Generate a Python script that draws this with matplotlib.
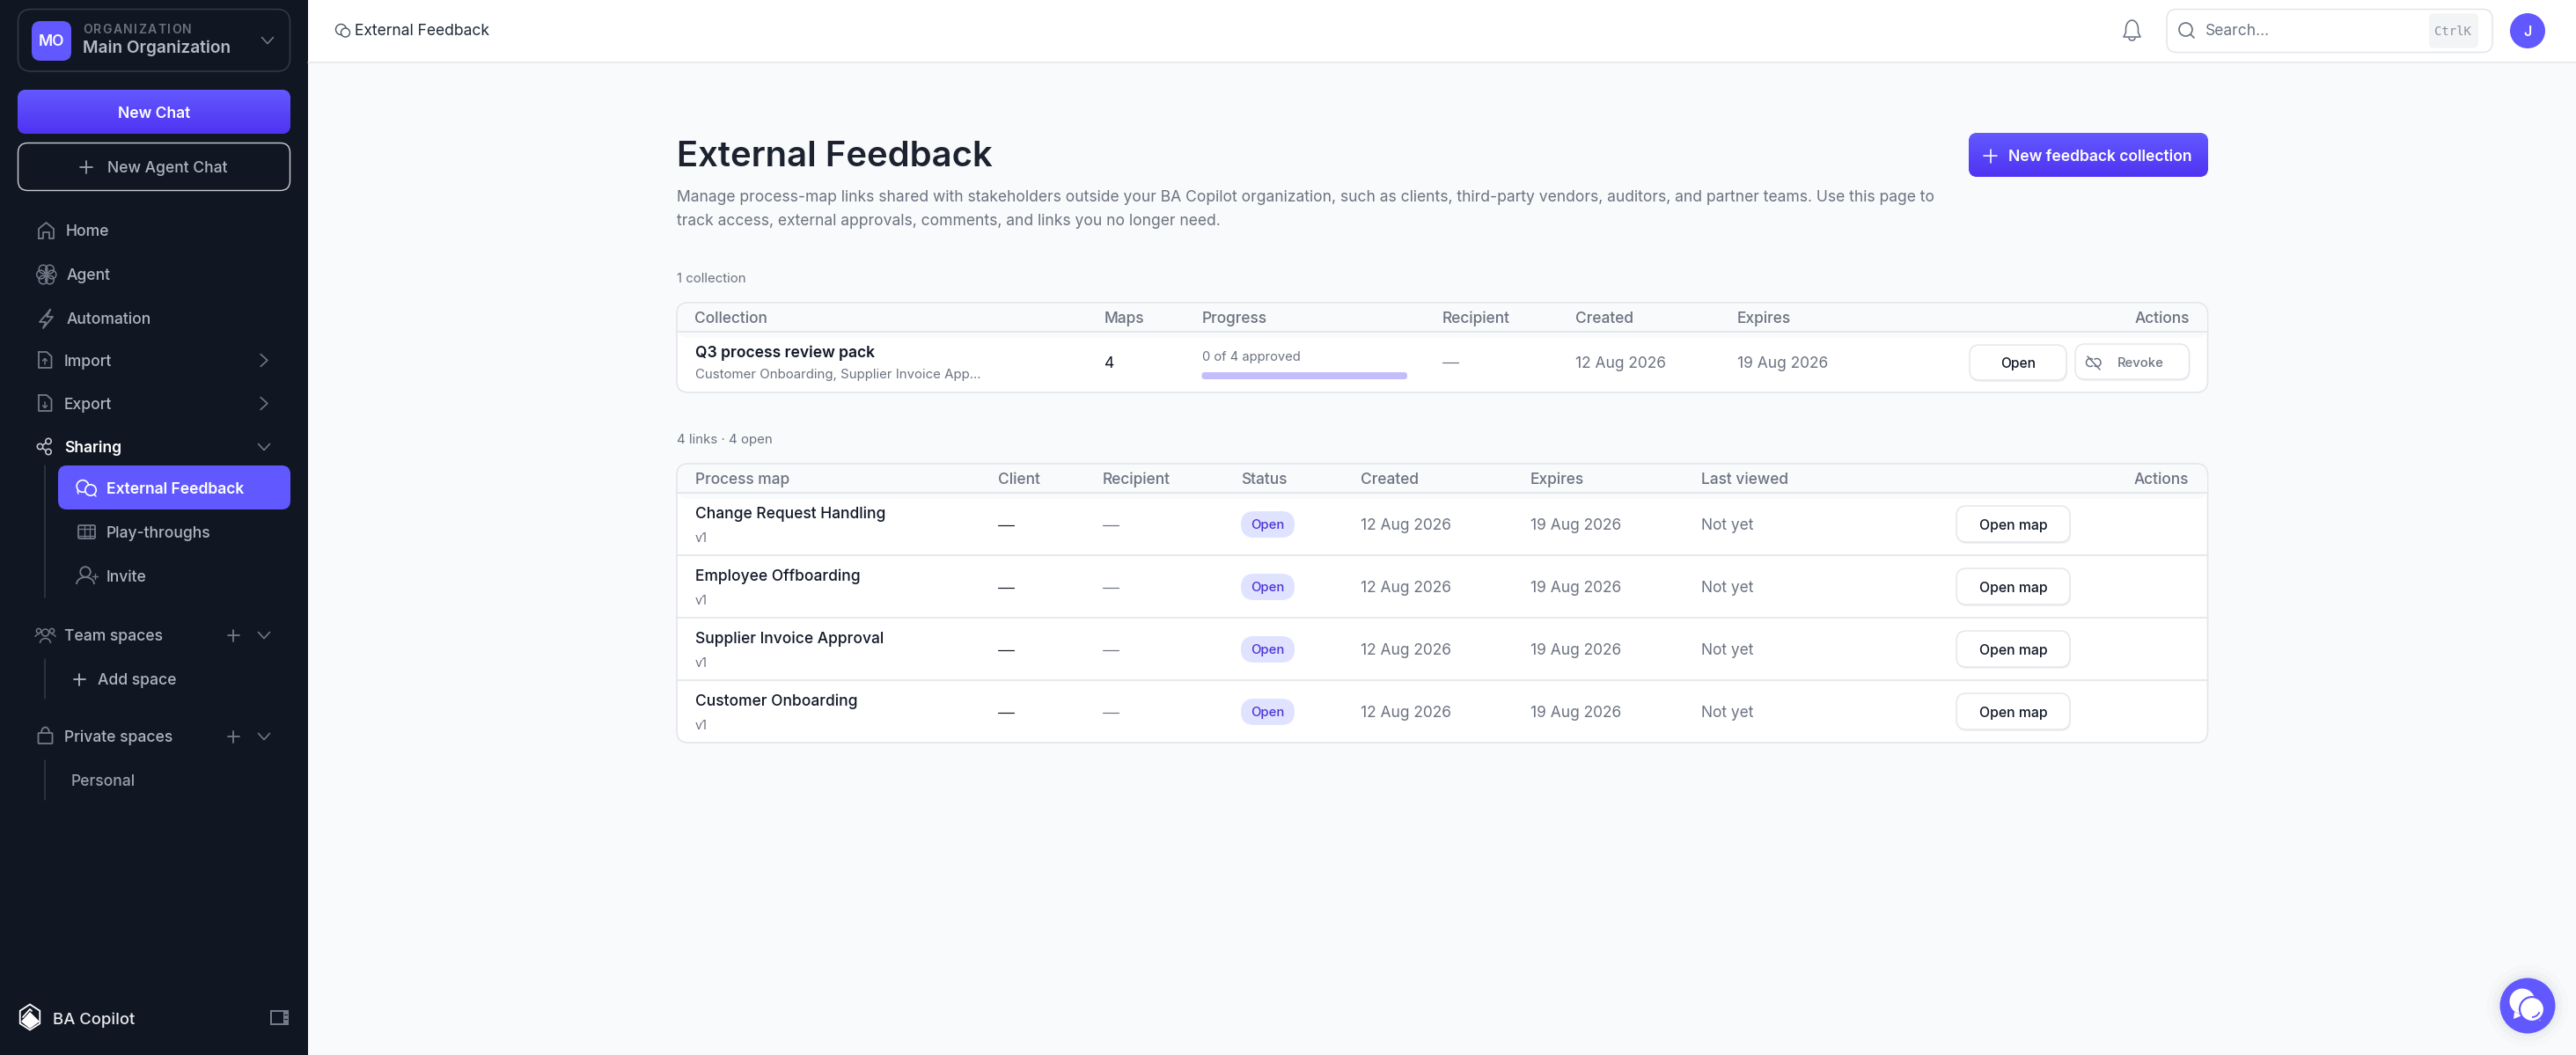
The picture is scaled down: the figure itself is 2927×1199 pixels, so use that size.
import numpy as np
import matplotlib
matplotlib.use("Agg")
import matplotlib.pyplot as plt
from matplotlib.patches import FancyBboxPatch, Circle, Rectangle, Polygon, Arc

plt.rcParams['font.family'] = ['Inter', 'DejaVu Sans']

# ---------- content ----------
NAV_MAIN = ["Home", "Agent", "Automation"]
NAV_IO = ["Import", "Export"]
NAV_SHARING = ["External Feedback", "Play-throughs", "Invite"]
TITLE = "External Feedback"
DESC = ["Manage process-map links shared with stakeholders outside your BA Copilot organization, such as clients, third-party vendors, auditors, and partner teams. Use this page to",
        "track access, external approvals, comments, and links you no longer need."]
T1_HEAD = ["Collection", "Maps", "Progress", "Recipient", "Created", "Expires"]
T2_HEAD = ["Process map", "Client", "Recipient", "Status", "Created", "Expires", "Last viewed"]
MAPS = ["Change Request Handling", "Employee Offboarding", "Supplier Invoice Approval", "Customer Onboarding"]
CREATED = "12 Aug 2026"
EXPIRES = "19 Aug 2026"

# ---------- colours ----------
SIDE = "#111722"; ACC = "#6159FF"; GRAY = "#6B7280"; DARK = "#111827"; LINE = "#E4E6EB"
NAVTXT = "#AEB4C0"; ICON = "#737B8A"; BG = "#F9FAFB"

W, H = 2927, 1199
fig = plt.figure(figsize=(W/100, H/100), dpi=100)
ax = fig.add_axes([0, 0, 1, 1])
ax.set_xlim(0, W); ax.set_ylim(H, 0); ax.axis("off")

px = lambda v: v*0.72

def rbox(x0, y0, x1, y1, r, fc="none", ec="none", lw=1.5, z=2):
    p = FancyBboxPatch((x0, y0), x1-x0, y1-y0, boxstyle=f"round,pad=0,rounding_size={r}",
                       fc=fc, ec=ec, lw=px(lw), zorder=z)
    ax.add_patch(p)
    return p

def rect(x0, y0, x1, y1, fc, z=1):
    ax.add_patch(Rectangle((x0, y0), x1-x0, y1-y0, fc=fc, ec="none", zorder=z))

def txt(x, y, s, size, color, weight="normal", ha="left", family=None, z=5):
    kw = {}
    if family: kw["family"] = family
    return ax.text(x, y+0.36*size, s, fontsize=px(size), color=color, fontweight=weight, ha=ha,
                   va="baseline", zorder=z, **kw)

def spaced(x, y, s, size, color, weight, total):
    # letter-spaced label: each glyph placed at its own prefix width
    r = fig.canvas.get_renderer()
    probe = txt(0, 0, s, size, color, weight)
    full = probe.get_window_extent(r).width
    probe.remove()
    gap = (total-full)/(len(s)-1)
    for i, ch in enumerate(s):
        if i:
            p = txt(0, 0, s[:i], size, color, weight)
            adv = p.get_window_extent(r).width
            p.remove()
        else:
            adv = 0
        txt(x+adv+gap*i, y, ch, size, color, weight)

def ln(xs, ys, color=ICON, lw=1.8, z=4):
    ax.plot(xs, ys, color=color, lw=px(lw), solid_capstyle="round", solid_joinstyle="round", zorder=z)

def circ(x, y, r, ec=ICON, fc="none", lw=1.8, z=4):
    ax.add_patch(Circle((x, y), r, fc=fc, ec=ec, lw=px(lw), zorder=z))

def arc(x, y, w, h, a0, a1, color=ICON, lw=1.8, z=4):
    ax.add_patch(Arc((x, y), w, h, theta1=a0, theta2=a1, color=color, lw=px(lw), zorder=z))

def plus(x, y, s, color=ICON, lw=1.8):
    ln([x-s, x+s], [y, y], color, lw); ln([x, x], [y-s, y+s], color, lw)

def chev_down(x, y, s=6.5, color=ICON):
    ln([x-s, x, x+s], [y-s*.55, y+s*.55, y-s*.55], color, 1.6)

def chev_right(x, y, s=7, color=ICON):
    ln([x-s*.55, x+s*.55, x-s*.55], [y-s, y, y+s], color, 1.6)

def grad_button(x0, y0, x1, y1, r, top="#6359FF", bottom="#4F33F2"):
    p = rbox(x0, y0, x1, y1, r, fc=top, z=2)
    g = np.linspace(0, 1, 64)[:, None, None]
    c0 = np.array(matplotlib.colors.to_rgb(top)); c1 = np.array(matplotlib.colors.to_rgb(bottom))
    im = ax.imshow(c0*(1-g)+c1*g, extent=(x0, x1, y1, y0), aspect="auto", zorder=3, interpolation="bilinear")
    im.set_clip_path(p)
    ax.set_xlim(0, W); ax.set_ylim(H, 0)

# ---------- page background ----------
ax.add_patch(Rectangle((0, 0), W, H, fc=BG, ec="none", zorder=0))
rect(350, 0, W, 70, "white")
ln([350, W], [70.5, 70.5], LINE, 1.5, z=2)
rect(0, 0, 350, H, SIDE, z=1)

# ---------- sidebar ----------
rbox(20.5, 10.5, 329.5, 81, 15, ec="#343A4A")
rbox(36, 24, 81, 69, 10, fc=ACC, z=3)
txt(58.5, 46, "MO", 17.5, "white", "semibold", ha="center")
spaced(94, 32.5, "ORGANIZATION", 14, "#6B7280", "semibold", 124)
txt(94, 53.5, "Main Organization", 19, "#B4BAC6", "semibold")
chev_down(304, 46)

grad_button(20, 102, 330, 152, 10)
txt(175.5, 127.5, "New Chat", 17.5, "white", "semibold", ha="center")
rbox(20.5, 162.5, 329.5, 216.5, 11, ec="#C9CDD4", lw=1.4)
plus(98, 190, 7, "#9AA0AC")
txt(122, 190, "New Agent Chat", 17.5, NAVTXT, "medium")

for s, y, x in zip(NAV_MAIN, [262, 312, 362], [75, 76, 76]):
    txt(x, y, s, 17.5, NAVTXT, "medium")
for s, y in zip(NAV_IO, [409.5, 458.5]):
    txt(73, y, s, 17.5, NAVTXT, "medium")
    chev_right(300, y)
# home
ln([44, 44, 52.5, 61, 61, 56, 56, 49, 49, 44], [271, 260, 253, 260, 271, 271, 264, 264, 271, 271])
# agent (brain)
for cx, cy in [(46.5, 312), (59, 312), (49, 306), (56.5, 306), (49, 318), (56.5, 318)]:
    circ(cx, cy, 4.8, lw=1.5)
ln([52.8, 52.8], [303, 321], lw=1.5)
# automation
ln([57, 45, 52, 49, 60, 53, 57], [352, 366, 366, 373, 360, 360, 352])
# import / export documents
for y, d in zip([409, 458], [-1, 1]):
    ln([44, 53, 58.5, 58.5, 44, 44], [y-9, y-9, y-4, y+9, y+9, y-9])
    ln([51, 51], [y-1, y+5], lw=1.5)
    if d > 0:
        ln([48.5, 51, 53.5], [y+3, y+5.5, y+3], lw=1.5)
    else:
        ln([48.5, 51, 53.5], [y+1, y-1.5, y+1], lw=1.5)

# sharing
txt(73, 508, "Sharing", 17.5, "white", "semibold")
chev_down(300, 508)
circ(45.5, 507.5, 3.2, "#C4C8D0", lw=1.6); circ(55, 501.5, 3.2, "#C4C8D0", lw=1.6); circ(55, 513.5, 3.2, "#C4C8D0", lw=1.6)
ln([48.5, 52], [506, 503.5], "#C4C8D0", 1.6); ln([48.5, 52], [509.5, 512], "#C4C8D0", 1.6)
ln([50.5, 50.5], [529, 679], "#343A4A", 1.5)
rbox(66, 529, 330, 579, 10, fc=ACC, z=2)
for s, y, c, w in zip(NAV_SHARING, [554.5, 605, 655], ["white", NAVTXT, NAVTXT], ["semibold", "medium", "medium"]):
    txt(121, y, s, 17.5, c, w)
# bubbles
circ(94, 552.5, 6.8, "white", lw=1.7); circ(103, 557, 6.2, "white", ACC, lw=1.7, z=5)
ln([88, 89], [558, 561], "white", 1.5); ln([107, 109], [562, 564], "white", 1.5, z=6)
# film
rbox(89, 597, 108, 612, 1.5, ec=ICON, lw=1.8, z=4)
ln([89, 108], [600.5, 600.5], lw=1.3); ln([89, 108], [608.5, 608.5], lw=1.3)
ln([95.5, 95.5], [597, 612], lw=1.3); ln([101.5, 101.5], [597, 612], lw=1.3)
# invite
circ(97, 650, 5.8); arc(97, 664, 20, 16, 180, 360); plus(108, 655, 3, lw=1.4)

txt(73, 722, "Team spaces", 17.5, NAVTXT, "medium")
for cx, cy, r in [(51.5, 719, 4), (44, 717, 2.6), (59, 717, 2.6)]:
    circ(cx, cy, r, lw=1.5)
arc(51.5, 731, 12, 11, 180, 360, lw=1.5)
arc(44, 724, 8, 6, 180, 280, lw=1.3); arc(59, 724, 8, 6, 260, 360, lw=1.3)
plus(265, 722, 6.5); chev_down(300, 722)
ln([50.5, 50.5], [749, 794], "#343A4A", 1.5)
plus(90, 772, 6.5, "#AEB4C0")
txt(111, 772, "Add space", 17.5, NAVTXT, "medium")

txt(73, 837, "Private spaces", 17.5, NAVTXT, "medium")
rbox(43.5, 833, 59.5, 845, 1, ec=ICON, lw=1.8, z=4)
arc(51.5, 833, 9, 13, 180, 360)
plus(265, 837, 6.5); chev_down(300, 837)
ln([50.5, 50.5], [864, 909], "#343A4A", 1.5)
txt(81, 887, "Personal", 17.5, "#9AA0AC", "medium")

# footer
th = np.radians(np.arange(30, 390, 60))
ax.add_patch(Polygon(np.c_[34+13*np.cos(th), 1156+14.5*np.sin(th)], closed=True, fc="none", ec="white", lw=px(1.8), zorder=4))
ax.add_patch(Polygon([[24, 1161], [34, 1150], [45, 1161], [34, 1169]], closed=True, fc="white", ec="none", zorder=4))
ln([26, 34, 36], [1156, 1147, 1149], "white", 1.8)
txt(60.5, 1157, "BA Copilot", 18.5, "#E8EAEE", "medium")
ax.add_patch(Rectangle((308, 1149), 19, 15, fc="none", ec=ICON, lw=px(2), zorder=4))
ax.add_patch(Rectangle((322, 1149), 5, 15, fc=ICON, ec="none", zorder=4))
for yy in [1153, 1158]:
    rect(323, yy, 326.5, yy+1.4, SIDE, z=5)

# ---------- top bar ----------
circ(387.5, 33.5, 6, "#4B5563", lw=1.4); circ(392.5, 37, 5, "#4B5563", "white", lw=1.4, z=5)
txt(403, 34, TITLE, 17.5, "#1F2937")
# bell
arc(2422.5, 33, 14, 20, 180, 360, "#6B7280", 1.6)
ln([2415.5, 2415.5, 2413, 2432, 2429.5, 2429.5], [33, 37, 42, 42, 37, 33], "#6B7280", 1.6)
arc(2422.5, 43, 7, 6, 0, 180, "#6B7280", 1.6)
# search
rbox(2462, 10.5, 2832, 59.5, 11, fc="white", ec="#E2E5EA", z=2)
circ(2483.5, 33.5, 7.5, "#6B7280", lw=1.7); ln([2489, 2493], [39, 43], "#6B7280", 1.7)
txt(2506, 34, "Search...", 17.5, "#6B7280")
rbox(2760, 15, 2816, 54.5, 6, fc="#F3F4F6", z=3)
txt(2787, 35, "CtrlK", 14, "#8B93A0", ha="center", family="DejaVu Sans Mono")
circ(2872, 35, 20, ACC, ACC, lw=0, z=3)
txt(2872, 35.5, "J", 16, "white", "semibold", ha="center")

# ---------- header ----------
txt(769, 175, TITLE, 40, "#1C2230", "semibold")
for s, y in zip(DESC, [222.5, 249.5]):
    txt(769, y, s, 17.5, GRAY)
grad_button(2237, 151, 2509, 201, 10)
plus(2261.5, 177, 7.5, "white", 1.6)
txt(2282.5, 177, "New feedback collection", 17.5, "white", "semibold")

def table(y0, yh, y1):
    X0, X1 = 769, 2508.5
    rbox(X0, y0, X1, y1, 13, fc="white", ec=LINE, lw=1.7, z=1.5)
    rbox(X0+1, y0+1, X1-1, y0+40, 12, fc=BG, z=1.6)
    rect(X0+1, y0+14, X1-1, yh, BG, z=1.7)
    ln([X0, X1], [yh, yh], LINE, 1.7, z=2)

def btn(x0, y0, x1, y1):
    rbox(x0+1, y0+2, x1+1, y1+2, 11, fc="#EFF0F3", z=2.1)
    rbox(x0, y0, x1, y1, 11, fc="white", ec="#E4E6EB", z=2.2)

# ---------- collections table ----------
txt(769, 316, "1 collection", 15, GRAY)
table(344, 377, 446)
for s, x in zip(T1_HEAD, [789.5, 1255, 1365.5, 1639, 1790, 1973.5]):
    txt(x, 360.5, s, 17.3, GRAY, "medium")
txt(2487.5, 360.5, "Actions", 17.3, GRAY, "medium", ha="right")
txt(789.5, 399.5, "Q3 process review pack", 17.5, DARK, "semibold")
txt(789.5, 424.5, "Customer Onboarding, Supplier Invoice App...", 15, GRAY)
txt(1255, 412, "4", 17.5, DARK)
txt(1365.5, 405, "0 of 4 approved", 14.7, GRAY)
rbox(1365.5, 423, 1599, 431, 3.5, fc="#C4BDFB", z=3)
ln([1639, 1657], [412, 412], GRAY, 1.2)
txt(1790, 411.5, CREATED, 17.4, GRAY)
txt(1973.5, 411.5, EXPIRES, 17.4, GRAY)
btn(2238, 392, 2348, 432)
txt(2293, 412, "Open", 15.5, DARK, "medium", ha="center")
btn(2358, 391, 2487.5, 431)
txt(2432, 412, "Revoke", 14.8, GRAY, "medium", ha="center")
arc(2375, 412, 9, 9, 50, 310, "#6B7280", 1.5, z=5); arc(2382.5, 412, 9, 9, 230, 490, "#6B7280", 1.5, z=5)
ln([2372, 2386], [405, 420], "#6B7280", 1.5, z=5)

# ---------- links table ----------
txt(769, 499, "4 links · 4 open", 15, GRAY)
table(527, 560, 844)
for s, x in zip(T2_HEAD, [790, 1134, 1253, 1410, 1546, 1739, 1933]):
    txt(x, 543.5, s, 17.3, GRAY, "medium")
txt(2487, 543.5, "Actions", 17.3, GRAY, "medium", ha="right")
ROW_H = 71
for i, name in enumerate(MAPS):
    cy = 596 + i*ROW_H
    if i:
        ln([769, 2508.5], [cy-36, cy-36], LINE, 1.7, z=2)
    txt(790, cy-13.5, name, 17.4, DARK, "medium")
    txt(790, cy+15, "v1", 14.5, GRAY)
    ln([1134, 1152], [cy+.5, cy+.5], DARK, 1.2)
    ln([1253, 1271], [cy+.5, cy+.5], GRAY, 1.2)
    rbox(1410, cy-15, 1471, cy+15, 15, fc="#E0E3FF", z=3)
    txt(1440.5, cy-.5, "Open", 14.8, "#4A33D6", "medium", ha="center")
    txt(1546, cy-.5, CREATED, 17.4, GRAY)
    txt(1739, cy-.5, EXPIRES, 17.4, GRAY)
    txt(1933, cy-.5, "Not yet", 17.4, GRAY)
    btn(2223, cy-21, 2352, cy+20)
    txt(2287.5, cy, "Open map", 15.8, DARK, "medium", ha="center")

# ---------- chat widget ----------
for r, a in [(46, .02), (40, .03), (35, .04)]:
    ax.add_patch(Circle((2872, 1143), r, fc="#6B7280", ec="none", alpha=a, zorder=3))
circ(2872, 1143, 31.5, ACC, ACC, lw=0, z=4)
circ(2866, 1138, 14.5, "white", "white", lw=0, z=5)
ax.add_patch(Polygon([[2857, 1150], [2856, 1158], [2866, 1154]], fc="white", ec="none", zorder=5))
circ(2877, 1147, 14, ACC, "white", lw=2.2, z=6)
ax.add_patch(Polygon([[2884, 1157], [2887, 1160], [2878, 1160]], fc="white", ec="none", zorder=5))
arc(2877, 1147, 18, 18, 20, 90, ACC, 1.8, z=7)

fig.savefig("out.png", dpi=100)
